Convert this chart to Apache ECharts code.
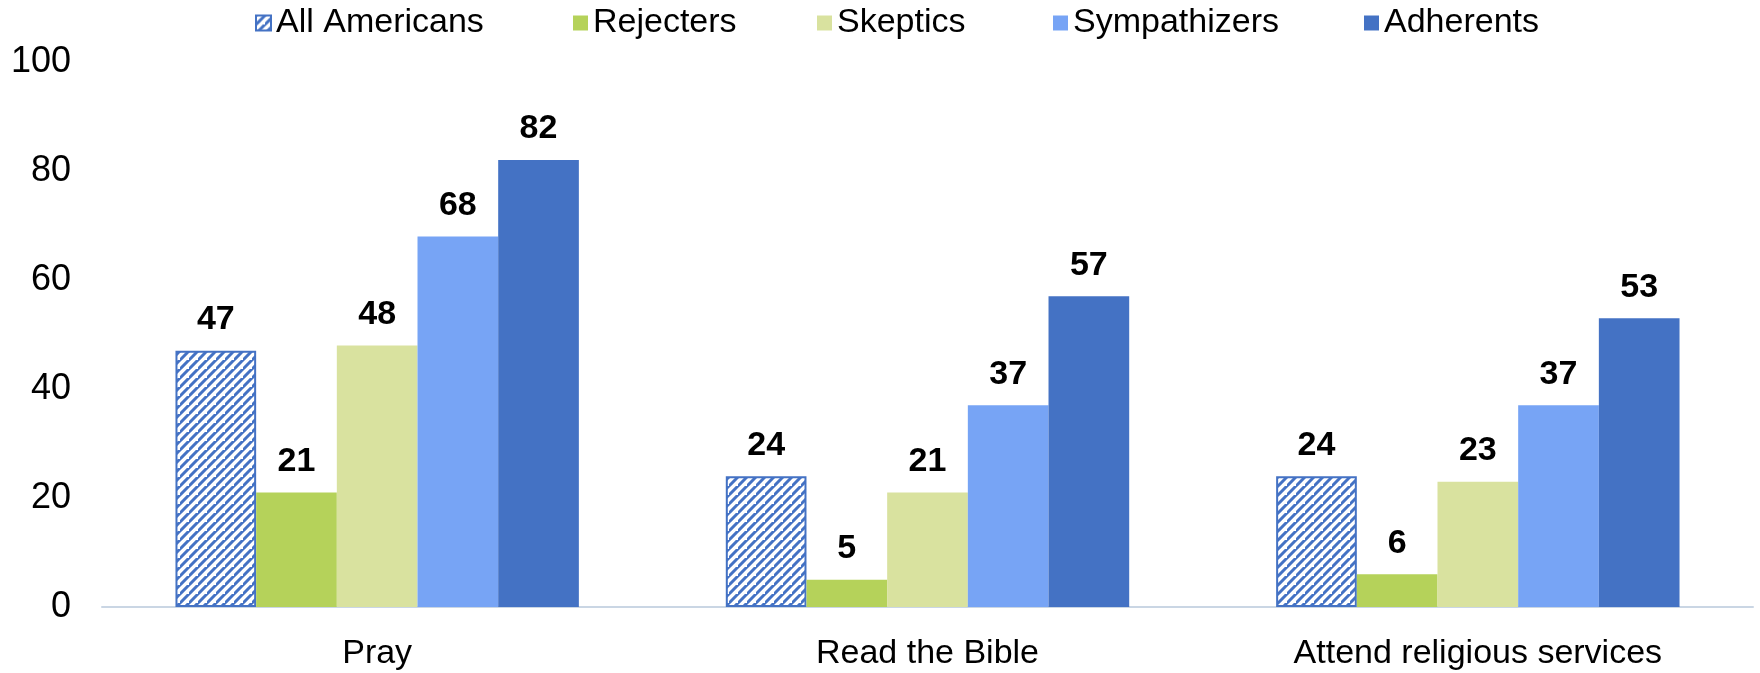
<!DOCTYPE html>
<html>
<head>
<meta charset="utf-8">
<script src="https://cdn.jsdelivr.net/npm/echarts@6/dist/echarts.min.js"></script>
<style>
html,body{margin:0;padding:0;background:#fff;}
#chart{width:1760px;height:673px;}
</style>
</head>
<body>
<div id="chart"></div>
<script>
const categories = ["Pray", "Read the Bible", "Attend religious services"];
const seriesNames = ["All Americans", "Rejecters", "Skeptics", "Sympathizers", "Adherents"];
const allAmericans = [47, 24, 24];
const rejecters = [21, 5, 6];
const skeptics = [48, 21, 23];
const sympathizers = [68, 37, 37];
const adherents = [82, 57, 53];
const yTicks = [0, 20, 40, 60, 80, 100];

const values = [allAmericans, rejecters, skeptics, sympathizers, adherents];
const colors = ["#4472c4", "#b5d25a", "#d9e29f", "#77a4f5", "#4472c4"];
// legend item left positions (layout only)
const legendLefts = [250, 568, 812, 1048, 1359];

function hatch() {
  const p = 9;
  const c = document.createElement('canvas');
  c.width = p; c.height = p;
  const g = c.getContext('2d');
  g.fillStyle = '#ffffff';
  g.fillRect(0, 0, p, p);
  g.strokeStyle = '#4472c4';
  g.lineWidth = 3;
  g.beginPath();
  g.moveTo(-1, p + 1); g.lineTo(p + 1, -1);
  g.moveTo(-p - 1, p + 1); g.lineTo(1, -1);
  g.moveTo(p - 1, 2 * p + 1); g.lineTo(2 * p + 1, p - 1);
  g.stroke();
  return c;
}

const chart = echarts.init(document.getElementById('chart'), null, {renderer: 'canvas'});
const font = '"Liberation Sans", Arial, sans-serif';

const series = seriesNames.map((name, i) => ({
  name: name,
  type: 'bar',
  data: values[i],
  barGap: '0%',
  barCategoryGap: '26.7%',
  itemStyle: i === 0 ? {
    color: {image: hatch(), repeat: 'repeat'},
    borderColor: '#4472c4',
    borderWidth: 2
  } : {color: colors[i]},
  label: {
    show: true,
    position: 'top',
    distance: 14,
    color: '#000',
    fontFamily: font,
    fontWeight: 'bold',
    fontSize: 34
  },
  emphasis: {disabled: true}
}));

const legends = seriesNames.map((name, i) => ({
  data: [name],
  top: 1,
  left: legendLefts[i],
  itemWidth: 15,
  itemHeight: 15,
  icon: 'rect',
  textStyle: {fontFamily: font, fontSize: 34, color: '#000'}
}));

chart.setOption({
  animation: false,
  textStyle: {fontFamily: font},
  legend: legends,
  grid: {left: 102, right: 7, top: 62, bottom: 66, containLabel: false},
  xAxis: {
    type: 'category',
    data: categories,
    axisLine: {lineStyle: {color: '#cad6e4', width: 2}},
    axisTick: {show: false},
    axisLabel: {fontFamily: font, fontSize: 34, color: '#000', margin: 30}
  },
  yAxis: {
    type: 'value',
    min: yTicks[0],
    max: yTicks[yTicks.length - 1],
    interval: 20,
    splitLine: {show: false},
    axisLine: {show: false},
    axisTick: {show: false},
    axisLabel: {fontFamily: font, fontSize: 36, color: '#000', margin: 31}
  },
  series: series
});
</script>
</body>
</html>
